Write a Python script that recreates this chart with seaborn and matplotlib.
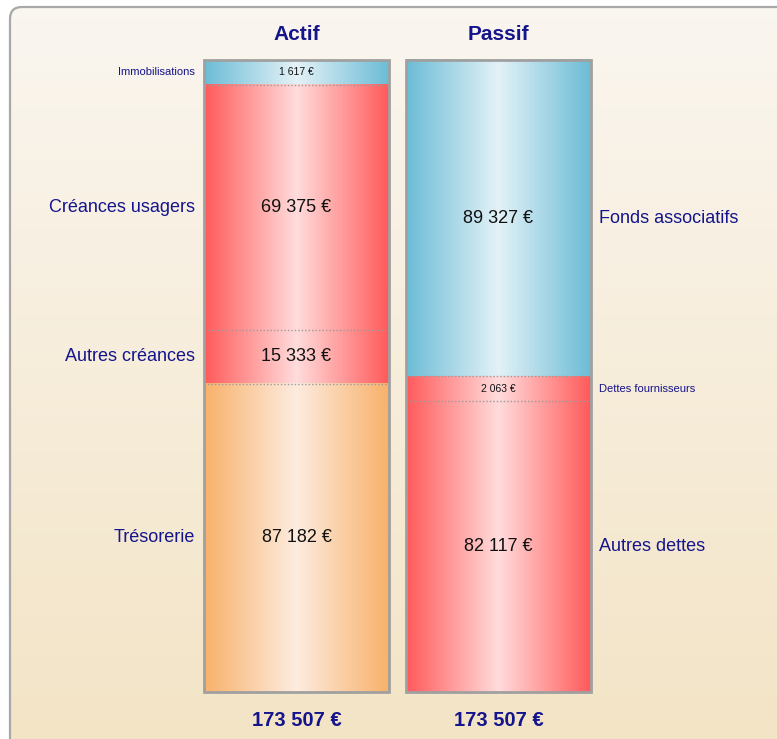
import numpy as np
import pandas as pd
import matplotlib.pyplot as plt
import seaborn as sns
from matplotlib.colors import to_rgb
from matplotlib.patches import FancyBboxPatch, Rectangle

# données du bilan
cotes = ["Actif", "Passif"]
actif_postes = ["Immobilisations", "Créances usagers", "Autres créances", "Trésorerie"]
actif_valeurs = [1617, 69375, 15333, 87182]
passif_postes = ["Fonds associatifs", "Dettes fournisseurs", "Autres dettes"]
passif_valeurs = [89327, 2063, 82117]

# couleurs (bord, centre) du dégradé
palette = {
    "bleu": ("#6cbcd6", "#e3f2f7"),
    "rouge": ("#ff5a5a", "#ffdcdc"),
    "orange": ("#f8b16a", "#fdece0"),
}
couleur_poste = {
    "Immobilisations": "bleu", "Créances usagers": "rouge",
    "Autres créances": "rouge", "Trésorerie": "orange",
    "Fonds associatifs": "bleu", "Dettes fournisseurs": "rouge",
    "Autres dettes": "rouge",
}

total = sum(actif_valeurs)
MINI = 0.039  # hauteur mini d'un petit poste (part du total)


def hauteurs(vals):
    vals = np.array(vals, dtype=float)
    petit = vals < MINI * total
    h = np.where(petit, MINI * total, 0.0)
    reste = total - h.sum()
    h[~petit] = vals[~petit] / vals[~petit].sum() * reste
    return h


rows = []
for cote, postes, valeurs in [("Actif", actif_postes, actif_valeurs),
                              ("Passif", passif_postes, passif_valeurs)]:
    h = hauteurs(valeurs)
    haut = total
    for p, v, hh in zip(postes, valeurs, h):
        rows.append(dict(cote=cote, poste=p, valeur=v, hauteur=hh, bas=haut - hh))
        haut -= hh
df = pd.DataFrame(rows)

W, H = 777, 739
fig = plt.figure(figsize=(W / 100, H / 100), dpi=100)
fig.patch.set_facecolor("white")

# fond dégradé dans un cadre arrondi
bg = fig.add_axes([0, 0, 1, 1])
bg.axis("off")
grad = np.linspace(0, 1, 256)[:, None, None]
c_top, c_bot = np.array(to_rgb("#faf6f0")), np.array(to_rgb("#f3e4c6"))
img = c_top + (c_bot - c_top) * grad
im = bg.imshow(img, extent=[0, 1, 0, 1], aspect="auto", transform=bg.transAxes)
cadre = FancyBboxPatch((0.10, -0.3), 8.5, 7.32 + 0.3,
                       boxstyle="round,pad=0,rounding_size=0.12",
                       transform=fig.dpi_scale_trans, facecolor="none",
                       edgecolor="#a8a8a8", lw=1.6)
bg.add_patch(cadre)
im.set_clip_path(cadre)

ax = fig.add_axes([0, 0, 1, 1])
ax.patch.set_alpha(0)

px_x = 202.0           # pixels par unité catégorielle
px_y = 632.0 / total   # pixels par euro
largeur = 185 / px_x

etroit = ["Liberation Sans Narrow", "Liberation Sans", "DejaVu Sans"]
gras = ["Liberation Sans", "DejaVu Sans"]
bleu_txt = "#14148c"

for _, r in df.iterrows():
    sns.barplot(x=[r.cote], y=[r.hauteur], order=cotes, bottom=r.bas,
                width=largeur, errorbar=None, ax=ax, color="white",
                edgecolor="none")
    bar = ax.patches[-1]
    x0, y0 = bar.get_x(), bar.get_y()
    x1, y1 = x0 + bar.get_width(), y0 + bar.get_height()
    bar.set_facecolor("none")
    bord, centre = palette[couleur_poste[r.poste]]
    t = 1 - np.abs(np.linspace(-1, 1, 300))
    cb, cc = np.array(to_rgb(bord)), np.array(to_rgb(centre))
    g = (cb + (cc - cb) * t[:, None])[None, :, :]
    ax.imshow(g, extent=[x0, x1, y0, y1], aspect="auto", zorder=1,
              interpolation="bilinear")
    if r.bas > 0:
        ax.plot([x0, x1], [r.bas, r.bas], ls=(0, (1, 1.5)), color="#9a9a9a",
                lw=1, zorder=2)
    yc = r.bas + r.hauteur / 2
    petit = r.valeur < MINI * total
    fs_val = 7.5 if petit else 13
    fs_lab = 8 if petit else 13
    ax.text((x0 + x1) / 2, yc, f"{r.valeur:,} €".replace(",", " "),
            ha="center", va="center", fontsize=fs_val, color="#111111",
            family=etroit, zorder=3)
    if r.cote == "Actif":
        ax.text(x0 - 9 / px_x, yc, r.poste, ha="right", va="center",
                fontsize=fs_lab, color=bleu_txt, family=etroit)
    else:
        ax.text(x1 + 8 / px_x, yc, r.poste, ha="left", va="center",
                fontsize=fs_lab, color=bleu_txt, family=etroit)

# contours, titres et totaux
for i, cote in enumerate(cotes):
    ax.add_patch(Rectangle((i - largeur / 2, 0), largeur, total, fill=False,
                           edgecolor="#a0a0a0", lw=2, zorder=4))
    ax.text(i, total + 25 / px_y, cote, ha="center", va="center",
            fontsize=15, fontweight="bold", color=bleu_txt, family=gras)
    tot = df.loc[df.cote == cote, "valeur"].sum()
    ax.text(i, -28 / px_y, f"{tot:,} €".replace(",", " "), ha="center",
            va="center", fontsize=14.5, fontweight="bold", color=bleu_txt,
            family=gras)

ax.set_xlim(-296.5 / px_x, (W - 296.5) / px_x)
ax.set_ylim(-(H - 692) / px_y, total + 60 / px_y)
ax.axis("off")

fig.savefig("out.png", dpi=100)
